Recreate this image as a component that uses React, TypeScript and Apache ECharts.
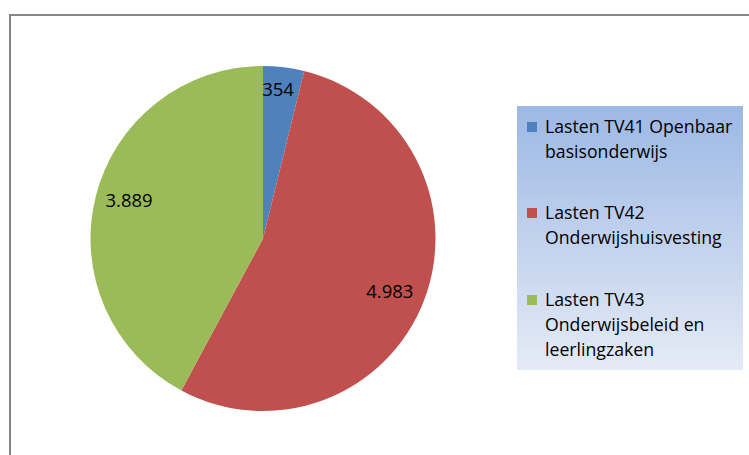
import React, { useEffect, useRef } from "react";
import * as echarts from "echarts";

const categories = [
  "Lasten TV41 Openbaar basisonderwijs",
  "Lasten TV42 Onderwijshuisvesting",
  "Lasten TV43 Onderwijsbeleid en leerlingzaken",
];
const legendLines = [
  "Lasten TV41 Openbaar\nbasisonderwijs",
  "Lasten TV42\nOnderwijshuisvesting",
  "Lasten TV43\nOnderwijsbeleid en\nleerlingzaken",
];
const values = [354, 4983, 3889];
const colors = ["#4F81BD", "#C0504D", "#9BBB59"];

const fmt = (v: number) => v.toLocaleString("nl-NL");

export default function App() {
  const ref = useRef<HTMLDivElement>(null);
  useEffect(() => {
    if (!ref.current) return;
    const chart = echarts.init(ref.current, null, { renderer: "svg" });
    const font = "'Open Sans', sans-serif";
    const legendItemTop = [122, 208, 295];
    const graphic: any[] = [
      {
        type: "rect",
        shape: { x: 10, y: 15, width: 800, height: 500 },
        style: { fill: "none", stroke: "#868686", lineWidth: 2 },
        silent: true,
      },
      {
        type: "rect",
        shape: { x: 517, y: 106, width: 226, height: 264 },
        style: {
          fill: new echarts.graphic.LinearGradient(0, 0, 0, 1, [
            { offset: 0, color: "#9CB8E4" },
            { offset: 1, color: "#E5EBF6" },
          ]),
        },
        silent: true,
      },
    ];
    legendLines.forEach((t, i) => {
      graphic.push({
        type: "rect",
        shape: { x: 527, y: legendItemTop[i], width: 10, height: 10 },
        style: { fill: colors[i] },
      });
      graphic.push({
        type: "text",
        x: 545,
        y: legendItemTop[i] - 9,
        style: {
          text: t,
          font: `17.7px ${font}`,
          fill: "#000",
          lineHeight: 25,
          verticalAlign: "top",
        },
      });
    });
    const data = values.map((v, i) => ({
      name: categories[i],
      value: v,
      itemStyle: { color: colors[i] },
    }));
    chart.setOption({
      animation: false,
      graphic,
      series: [
        {
          type: "pie",
          center: [263, 238.5],
          radius: 172.5,
          startAngle: 90,
          clockwise: true,
          data,
          label: { show: false },
          labelLine: { show: false },
          itemStyle: { borderWidth: 0 },
          silent: true,
        },
        {
          type: "pie",
          center: [263, 238.5],
          radius: [104, 172.5],
          startAngle: 90,
          clockwise: true,
          data: values.map((v, i) => ({
            name: categories[i],
            value: v,
            label:
              i === 0
                ? { offset: [-2, -10] }
                : i === 1
                ? { offset: [-5, 1] }
                : { offset: [3, -5] },
          })),
          itemStyle: { color: "rgba(0,0,0,0)", borderWidth: 0 },
          label: {
            show: true,
            position: "inside",
            formatter: (p: any) => fmt(p.value),
            color: "#000",
            fontSize: 18.5,
            fontFamily: font,
          },
          labelLine: { show: false },
          silent: true,
        },
      ],
    });
    return () => chart.dispose();
  }, []);
  return (
    <div
      ref={ref}
      style={{ position: "absolute", left: 0, top: 0, width: 749, height: 455 }}
    />
  );
}
